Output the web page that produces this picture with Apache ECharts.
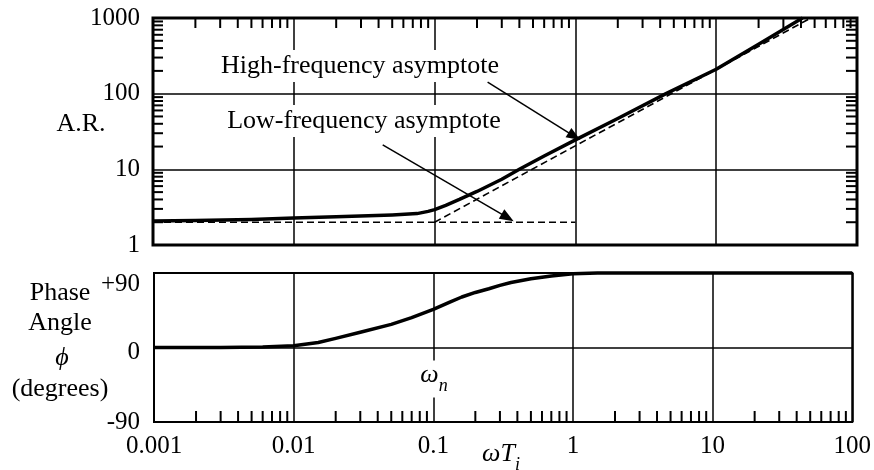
<!DOCTYPE html>
<html>
<head>
<meta charset="utf-8">
<script src="https://cdn.jsdelivr.net/npm/echarts@6/dist/echarts.min.js"></script>
<style>
  html, body { margin: 0; padding: 0; background: #fff; }
  #chart { width: 874px; height: 470px; }
</style>
</head>
<body>
<div id="chart"></div>
<script>
// Amplitude ratio vs. dimensionless frequency (omega * Ti)
const magFreq = [0.001, 0.002, 0.005, 0.01, 0.02, 0.05, 0.075, 0.09, 0.1, 0.12, 0.15, 0.2, 0.3, 0.4, 0.6, 1, 2, 4.4, 10, 20, 41];
const magAR   = [2.08, 2.1, 2.17, 2.27, 2.36, 2.5, 2.6, 2.78, 2.94, 3.35, 4.0, 5.1, 7.4, 10.0, 15, 24.5, 47, 100, 210, 450, 1000];

// Asymptotes of the amplitude ratio
const lowAsymFreq  = [0.001, 1];
const lowAsymAR    = [2, 2];
const highAsymFreq = [0.1, 47];
const highAsymAR   = [2, 1000];

// Phase angle (degrees)
const phaseFreq = [0.001, 0.003, 0.006, 0.01, 0.015, 0.02, 0.03, 0.05, 0.07, 0.1, 0.13, 0.16, 0.2, 0.25, 0.3, 0.36, 0.5, 0.7, 1, 1.5, 2, 10, 100];
const phaseDeg  = [0, 0, 0.5, 2, 6, 11, 18.5, 28, 36, 46, 54.5, 61, 66.5, 71, 75, 78.5, 83, 86.5, 89, 90, 90, 90, 90];

// Tick labels
const freqTicks  = ['0.001', '0.01', '0.1', '1', '10', '100'];
const arTicks    = ['1', '10', '100', '1000'];
const phaseTicks = ['-90', '0', '+90'];

// Log-decade minor tick positions
const freqDecades = [0.001, 0.01, 0.1, 1, 10];
const arDecades   = [1, 10, 100];
const minorSteps  = [2, 3, 4, 5, 6, 7, 8, 9];

const SERIF = '"Liberation Serif", "Times New Roman", serif';
const round = v => +(+v).toPrecision(6);

const minorFreq = [];
freqDecades.forEach(d => minorSteps.forEach(k => minorFreq.push(round(d * k))));
const minorAR = [];
arDecades.forEach(d => minorSteps.forEach(k => minorAR.push(round(d * k))));

const zip = (a, b) => a.map((v, i) => [v, b[i]]);

// Short inward tick drawn from a point on the plot frame
function edgeTicks(dx, dy, len) {
  return function (params, api) {
    const p = api.coord([api.value(0), api.value(1)]);
    return {
      type: 'line',
      shape: { x1: p[0], y1: p[1], x2: p[0] + dx * len, y2: p[1] + dy * len },
      style: { stroke: '#000', lineWidth: 2 }
    };
  };
}

const splitStyle = { show: true, lineStyle: { color: '#000', width: 1.5, type: 'solid' } };
const centered = { align: 'center', verticalAlign: 'middle', textAlign: 'center', textVerticalAlign: 'middle' };

const chart = echarts.init(document.getElementById('chart'), null, { renderer: 'canvas' });

chart.setOption({
  animation: false,
  backgroundColor: '#fff',
  grid: [
    { left: 153, top: 18, right: 17, bottom: 225, show: true, borderColor: '#000', borderWidth: 3 },
    { left: 154, top: 273, right: 19, bottom: 48, show: true, borderColor: '#000', borderWidth: 2 }
  ],
  xAxis: [
    {
      type: 'log', logBase: 10, gridIndex: 0, min: 0.001, max: 100,
      axisLine: { show: false }, axisTick: { show: false }, axisLabel: { show: false },
      splitLine: splitStyle
    },
    {
      type: 'log', logBase: 10, gridIndex: 1, min: 0.001, max: 100,
      axisLine: { show: false }, axisTick: { show: false },
      axisLabel: {
        show: true, margin: 12, color: '#000', fontFamily: SERIF, fontSize: 25,
        formatter: v => {
          const s = String(round(v));
          return freqTicks.indexOf(s) >= 0 ? s : '';
        }
      },
      splitLine: splitStyle
    }
  ],
  yAxis: [
    {
      type: 'log', logBase: 10, gridIndex: 0, min: 1, max: 1000,
      axisLine: { show: false }, axisTick: { show: false },
      axisLabel: {
        margin: 13, color: '#000', fontFamily: SERIF, fontSize: 25,
        formatter: v => {
          const s = String(round(v));
          return arTicks.indexOf(s) >= 0 ? s : '';
        }
      },
      splitLine: splitStyle
    },
    {
      type: 'value', gridIndex: 1, min: -90, max: 90, interval: 90,
      axisLine: { show: false }, axisTick: { show: false },
      axisLabel: {
        margin: 14, color: '#000', fontFamily: SERIF, fontSize: 25,
        formatter: v => v > 0 ? '{hi|' + phaseTicks[2] + '}' : (v === 0 ? '{mid|' + phaseTicks[1] + '}' : '{lo|' + phaseTicks[0] + '}'),
        rich: {
          hi:  { fontFamily: SERIF, fontSize: 25, color: '#000', padding: [22, 0, 0, 0] },
          mid: { fontFamily: SERIF, fontSize: 25, color: '#000', padding: [10, 0, 0, 0] },
          lo:  { fontFamily: SERIF, fontSize: 25, color: '#000' }
        }
      },
      splitLine: splitStyle
    }
  ],
  series: [
    {
      name: 'Amplitude ratio', type: 'line', xAxisIndex: 0, yAxisIndex: 0,
      data: zip(magFreq, magAR), showSymbol: false, symbol: 'none',
      smooth: false, clip: false, z: 4,
      lineStyle: { color: '#000', width: 3.5, join: 'round' },
      markLine: {
        silent: true, symbol: ['none', 'triangle'], symbolSize: [11, 14],
        label: { show: false },
        lineStyle: { color: '#000', width: 1.5, type: 'solid' },
        data: [
          [{ coord: [0.238, 142] }, { coord: [0.984, 27.3] }],
          [{ coord: [0.0428, 21] }, { coord: [0.33, 2.3] }]
        ]
      }
    },
    {
      name: 'Low-frequency asymptote', type: 'line', xAxisIndex: 0, yAxisIndex: 0,
      data: zip(lowAsymFreq, lowAsymAR), showSymbol: false, symbol: 'none', z: 3,
      lineStyle: { color: '#000', width: 1.6, type: [7, 4] }
    },
    {
      name: 'High-frequency asymptote', type: 'line', xAxisIndex: 0, yAxisIndex: 0,
      data: zip(highAsymFreq, highAsymAR), showSymbol: false, symbol: 'none', z: 3,
      lineStyle: { color: '#000', width: 1.6, type: [7, 4] }
    },
    {
      name: 'Phase angle', type: 'line', xAxisIndex: 1, yAxisIndex: 1,
      data: zip(phaseFreq, phaseDeg), showSymbol: false, symbol: 'none',
      smooth: false, clip: false, z: 4,
      lineStyle: { color: '#000', width: 3.5, join: 'round' }
    },
    {
      type: 'custom', xAxisIndex: 0, yAxisIndex: 0, z: 3, silent: true,
      data: minorFreq.map(v => [v, 1000]),
      renderItem: edgeTicks(0, 1, 10)
    },
    {
      type: 'custom', xAxisIndex: 0, yAxisIndex: 0, z: 3, silent: true,
      data: minorAR.map(v => [0.001, v]),
      renderItem: edgeTicks(1, 0, 10)
    },
    {
      type: 'custom', xAxisIndex: 0, yAxisIndex: 0, z: 3, silent: true,
      data: minorAR.map(v => [100, v]),
      renderItem: edgeTicks(-1, 0, 11)
    },
    {
      type: 'custom', xAxisIndex: 1, yAxisIndex: 1, z: 3, silent: true,
      data: minorFreq.map(v => [v, -90]),
      renderItem: edgeTicks(0, -1, 11)
    }
  ],
  graphic: [
    {
      type: 'text', x: 360, y: 66, z: 1, silent: true,
      style: Object.assign({
        text: 'High-frequency asymptote', font: '26px ' + SERIF, fill: '#000',
        backgroundColor: '#fff', padding: [3, 4]
      }, centered)
    },
    {
      type: 'text', x: 364, y: 121, z: 1, silent: true,
      style: Object.assign({
        text: 'Low-frequency asymptote', font: '26px ' + SERIF, fill: '#000',
        backgroundColor: '#fff', padding: [3, 4]
      }, centered)
    },
    {
      type: 'text', x: 81, y: 124, silent: true,
      style: Object.assign({ text: 'A.R.', font: '26px ' + SERIF, fill: '#000' }, centered)
    },
    {
      type: 'text', x: 60, y: 293, silent: true,
      style: Object.assign({ text: 'Phase', font: '26px ' + SERIF, fill: '#000' }, centered)
    },
    {
      type: 'text', x: 60, y: 323, silent: true,
      style: Object.assign({ text: 'Angle', font: '26px ' + SERIF, fill: '#000' }, centered)
    },
    {
      type: 'text', x: 62, y: 358, silent: true,
      style: Object.assign({ text: '\u03D5', font: 'italic 26px ' + SERIF, fill: '#000' }, centered)
    },
    {
      type: 'text', x: 60, y: 389, silent: true,
      style: Object.assign({ text: '(degrees)', font: '26px ' + SERIF, fill: '#000' }, centered)
    },
    {
      type: 'text', x: 434, y: 379, z: 1, silent: true,
      style: Object.assign({
        text: '{w|\u03C9}{s|n}', fill: '#000',
        backgroundColor: '#fff', padding: [2, 2],
        rich: {
          w: { font: 'italic 26px ' + SERIF, fill: '#000', padding: [0, 0, 7, 0], verticalAlign: 'bottom' },
          s: { font: 'italic 18px ' + SERIF, fill: '#000', verticalAlign: 'bottom' }
        }
      }, centered)
    },
    {
      type: 'text', x: 501, y: 458, silent: true,
      style: Object.assign({
        text: '{w|\u03C9T}{s|i}', fill: '#000',
        rich: {
          w: { font: 'italic 26px ' + SERIF, fill: '#000', padding: [0, 0, 7, 0], verticalAlign: 'bottom' },
          s: { font: 'italic 18px ' + SERIF, fill: '#000', verticalAlign: 'bottom' }
        }
      }, centered)
    }
  ]
});
</script>
</body>
</html>
